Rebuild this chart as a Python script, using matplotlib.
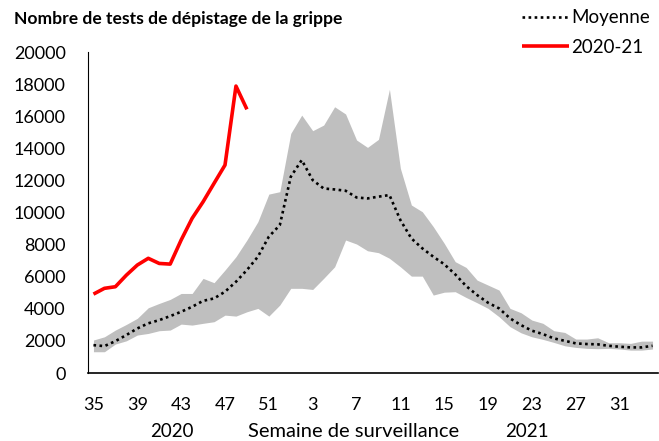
import numpy as np
import matplotlib.pyplot as plt

plt.rcParams['font.family'] = ['Lato', 'DejaVu Sans']

# semaines 35-52 (2020) puis 1-34 (2021)
weeks = list(range(35, 53)) + list(range(1, 35))

moyenne = [1740, 1680, 1990, 2370, 2780, 3100, 3300, 3550, 3820, 4130,
           4500, 4650, 5070, 5690, 6420, 7250, 8500, 9220, 12230, 13270,
           12020, 11500, 11440, 11360, 10940, 10880, 10990, 11090, 9530, 8390,
           7770, 7250, 6780, 6150, 5420, 4860, 4380, 4030, 3410, 2990,
           2640, 2430, 2160, 2010, 1850, 1810, 1790, 1700, 1640, 1600,
           1600, 1700]

haut = [2060, 2260, 2680, 3030, 3410, 4070, 4340, 4590, 4960, 4960,
        5900, 5630, 6420, 7250, 8290, 9430, 11150, 11300, 14930, 16070,
        15100, 15450, 16590, 16140, 14520, 14060, 14560, 17680, 12750, 10470,
        10050, 9120, 8080, 6940, 6580, 5790, 5480, 5170, 4030, 3760,
        3300, 3100, 2640, 2530, 2120, 2120, 2200, 1890, 1890, 1850,
        1990, 1990]

bas = [1330, 1330, 1810, 2010, 2370, 2470, 2640, 2680, 3050, 2990,
       3100, 3200, 3610, 3550, 3820, 4030, 3550, 4240, 5280, 5280,
       5210, 5900, 6620, 8290, 8040, 7620, 7500, 7150, 6620, 6040,
       6040, 4860, 5040, 5070, 4710, 4380, 4030, 3510, 2890, 2510,
       2260, 2100, 1910, 1700, 1600, 1540, 1520, 1540, 1500, 1430,
       1430, 1500]

saison_2020_21 = [4920, 5280, 5380, 6100, 6730, 7150, 6830, 6790, 8290, 9640,
                  10670, 11820, 12960, 17880, 16430]

x = np.arange(len(weeks))

fig = plt.figure(figsize=(6.59, 4.41), dpi=100)
ax = fig.add_axes([0.1335, 0.154, 0.865, 0.728])

ax.fill_between(x, bas, haut, color='#BFBFBF', linewidth=0)
ax.plot(x, moyenne, color='black', linestyle=(0, (1, 1.3)), linewidth=1.9,
        label='Moyenne')
ax.plot(np.arange(len(saison_2020_21)), saison_2020_21, color='#FF0000',
        linewidth=2.6, label='2020-21', solid_capstyle='butt')

ax.set_xlim(-0.5, len(weeks) - 0.5)
ax.set_ylim(0, 20000)
ax.set_yticks(range(0, 20001, 2000))
ax.set_xticks(x[::4])
ax.set_xticklabels([str(w) for w in weeks[::4]])
ax.tick_params(length=0, labelsize=13)
ax.tick_params(axis='y', pad=16)
ax.tick_params(axis='x', pad=17)

for s in ['top', 'right']:
    ax.spines[s].set_visible(False)
ax.spines['left'].set_color('black')
ax.spines['bottom'].set_color('black')
ax.spines['bottom'].set_linewidth(1.2)

fig.text(0.021, 0.958, 'Nombre de tests de dépistage de la grippe',
         fontsize=12.6, fontweight='bold', va='center')
fig.text(0.228, 0.022, '2020', fontsize=13.5, va='center')
fig.text(0.376, 0.022, 'Semaine de surveillance', fontsize=14.5, va='center')
fig.text(0.766, 0.022, '2021', fontsize=13.5, va='center')

fig.legend(loc='upper right', bbox_to_anchor=(1.0, 1.0), frameon=False,
           fontsize=13.5, handlelength=2.5, handletextpad=0.1,
           labelspacing=0.65, borderaxespad=0.1)

fig.savefig('out.png', dpi=100)
